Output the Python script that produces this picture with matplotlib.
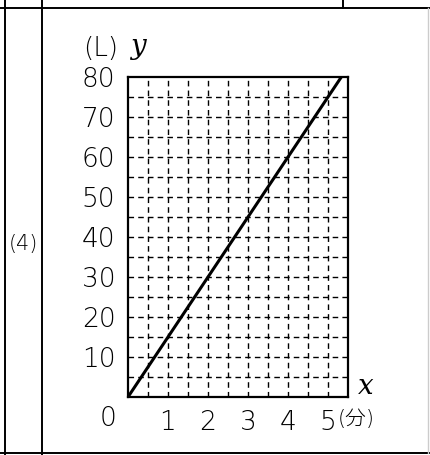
import matplotlib
matplotlib.use("Agg")
import matplotlib.pyplot as plt
from matplotlib.lines import Line2D
import numpy as np

plt.rcParams['font.family'] = ['DejaVu Sans', 'Noto Sans CJK JP']

# data: water amount y (L) after x minutes, 15 L per minute
minutes = [0, 16 / 3]
litres = [0, 80]
x_ticks = [1, 2, 3, 4, 5]
y_ticks = [10, 20, 30, 40, 50, 60, 70, 80]
x_grid = np.arange(0.5, 5.5, 0.5)
y_grid = np.arange(5, 80, 5)
row_label = "(4)"

W, H = 430, 455
fig = plt.figure(figsize=(W / 100, H / 100), dpi=100)

def fx(px):
    return px / W

def fy(py):
    return 1 - py / H

# answer sheet table lines
for (x0, y0, x1, y1) in [(5, 0, 5, 455), (42, 0, 42, 455), (0, 8, 430, 8),
                         (343, 0, 343, 8), (0, 453, 430, 453)]:
    fig.add_artist(Line2D([fx(x0), fx(x1)], [fy(y0), fy(y1)], color='black', lw=1.4))
fig.add_artist(Line2D([fx(428), fx(428)], [fy(8), fy(453)], color='#cccccc', lw=1.0))
fig.text(fx(23), fy(244), row_label, fontsize=15, ha='center', va='center',
         fontweight='light')

ax = fig.add_axes([fx(128), fy(397), fx(348) - fx(128), fy(77) - fy(397)])
ax.set_xlim(0, 5.5)
ax.set_ylim(0, 80)

for gx in x_grid:
    ax.axvline(gx, color='black', lw=1.0, ls=(0, (4, 3)))
for gy in y_grid:
    ax.axhline(gy, color='black', lw=1.0, ls=(0, (4, 3)))

ax.plot(minutes, litres, color='black', lw=2.2, solid_capstyle='butt')

for s in ax.spines.values():
    s.set_linewidth(1.6)

ax.set_xticks(x_ticks)
ax.set_xticklabels([str(v) for v in x_ticks], fontweight='light')
ax.set_yticks(y_ticks)
ax.set_yticklabels([str(v) for v in y_ticks], fontweight='light')
ax.tick_params(length=0, labelsize=19, pad=9)
ax.tick_params(axis='x', pad=9)

fig.text(fx(108), fy(419), "0", fontsize=19, ha='center', va='center', fontweight='light')
fig.text(fx(338), fy(419), "(分)", fontsize=15, ha='left', va='center', fontweight='light')
fig.text(fx(83), fy(48), "(L)", fontsize=19, ha='left', va='center', fontweight='light')
fig.text(fx(130), fy(46), "y", fontsize=20, ha='left', va='center', style='italic',
         family='DejaVu Serif')
fig.text(fx(358), fy(386), "x", fontsize=20, ha='left', va='center', style='italic',
         family='DejaVu Serif')

fig.savefig("out.png", dpi=100, facecolor='white')
